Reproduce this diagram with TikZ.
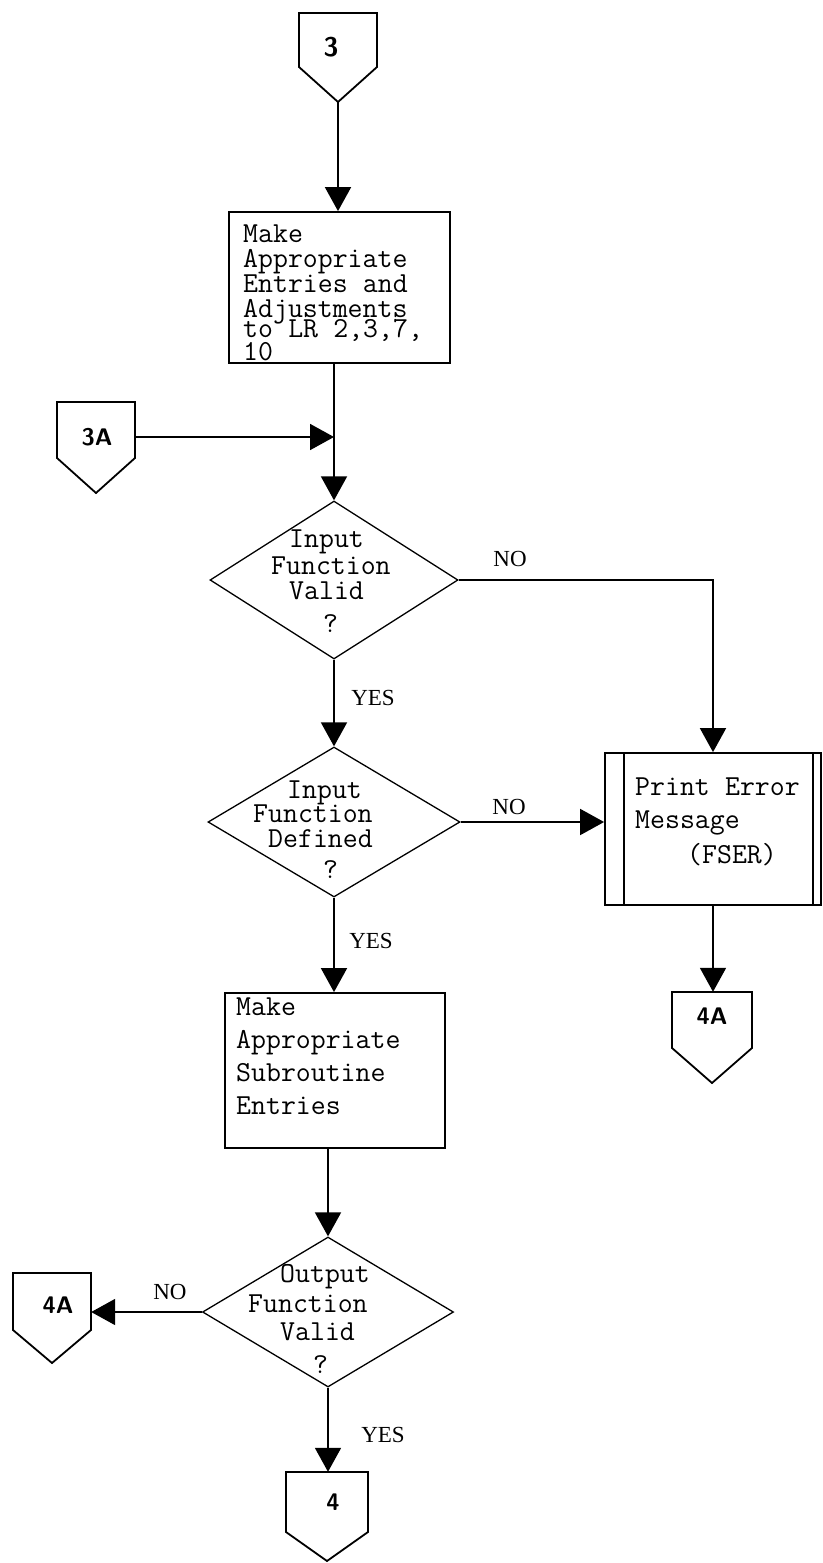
\documentclass[tikz,border=0pt]{standalone}
\usepackage{fontspec}
\newfontfamily\labfont{Liberation Serif}
\usetikzlibrary{arrows.meta,shapes.geometric}
\tikzset{
  ln/.style={line width=1.8pt},
  arr/.style={ln, -{Triangle[width=26pt,length=24pt]}},
  boxst/.style={draw, ln, rectangle, inner sep=0pt},
  dia/.style={draw, line width=1.3pt, diamond, inner sep=0pt, aspect=1},
  txt/.style={font=\fontsize{29}{25}\ttfamily, inner sep=0pt, anchor=base west, text width=220pt, align=left, execute at begin node={\spaceskip=15.2pt\relax}},
  lab/.style={font=\fontsize{23}{23}\labfont, inner sep=0pt},
  conlab/.style={font=\fontsize{24}{24}\sffamily\bfseries, inner sep=0pt},
  hook/.style={inner sep=0pt}
}
\newcommand{\offpage}[6]{%
  \draw[ln, line join=miter] ({#2-#4},#3) -- ({#2+#4},#3) -- ({#2+#4},#5) -- (#2,#6) -- ({#2-#4},#5) -- cycle;
  \node[hook, minimum width={2*#4}, minimum height={#5-#3}] (#1) at (#2,{(#3+#5)/2}) {};
  \coordinate (#1tip) at (#2,#6);
}
\begin{document}
\begin{tikzpicture}[x=1pt,y=-1pt]
\useasboundingbox (0,0) rectangle (822,1563);

% off-page connectors
\offpage{c3}{338}{13}{39}{67}{102}
\offpage{cA}{96}{402}{39}{458}{493}
\offpage{cR}{712}{992}{40}{1048}{1083}
\offpage{cL}{52}{1273}{39}{1330}{1363}
\offpage{c4}{327}{1472}{41}{1532}{1561}
\node[conlab, font=\fontsize{27}{27}\sffamily\bfseries] (c3t) at (331,47) {3};
\node[conlab] (cAt) at (97,437) {3A};
\node[conlab] (cRt) at (712,1016) {4A};
\node[conlab] (cLt) at (58,1305) {4A};
\node[conlab] (c4t) at (333,1502) {4};

% process boxes
\node[boxst, minimum width=221pt, minimum height=151pt] (b1) at (339.5,287.5) {};
\node[boxst, minimum width=220pt, minimum height=155pt] (b2) at (335,1070.5) {};
\node[boxst, minimum width=216pt, minimum height=152pt] (pe) at (713,829) {};
\draw[ln] ([xshift=20pt]pe.north west) -- ([xshift=20pt]pe.south west);
\draw[ln] ([xshift=-9pt]pe.north east) -- ([xshift=-9pt]pe.south east);

% decisions
\node[dia, minimum width=248pt, minimum height=158pt] (d1) at (334,580) {};
\node[dia, minimum width=252pt, minimum height=150pt] (d2) at (334,822) {};
\node[dia, minimum width=251pt, minimum height=150pt] (d3) at (328,1312) {};

% texts
\node[txt] (t1) at (243,242) {Make\\Appropriate\\Entries and\\Adjustments\\[-5pt]to LR 2,3,7,\\[-2pt]10};
\node[txt, font=\fontsize{29}{33}\ttfamily] (t2) at (236,1015) {Make\\Appropriate\\Subroutine\\Entries};
\node[txt, font=\fontsize{29}{33}\ttfamily] (t3) at (635,795) {Print Error\\Message\\[2pt]\hspace*{52pt}(FSER)};
\node[txt, font=\fontsize{29}{26}\ttfamily] (t4) at (271,547) {\hspace*{18pt}Input\\[1pt]Function\\[-1pt]\hspace*{18pt}Valid\\[7pt]\hspace*{52pt}?};
\node[txt, font=\fontsize{29}{25}\ttfamily] (t5) at (253,798) {\hspace*{34pt}Input\\[-1pt]Function\\\hspace*{15pt}Defined\\[6pt]\hspace*{70pt}?};
\node[txt, font=\fontsize{29}{29}\ttfamily] (t6) at (248,1282) {\hspace*{32pt}Output\\[1pt]Function\\[-1pt]\hspace*{32pt}Valid\\[4pt]\hspace*{65pt}?};

% connectors
\coordinate (j1) at (334,437);
\draw[arr] (c3tip) -- (c3tip |- b1.north);
\draw[ln] (d1.north |- b1.south) -- (j1);
\draw[arr] (j1) -- (d1.north);
\draw[arr] (cA.east |- j1) -- (j1);
\draw[arr] (d1.east) -| (pe.north);
\draw[arr] (d1.south) -- (d2.north);
\draw[arr] (d2.east) -- (d2.east -| pe.west);
\draw[arr] (d2.south) -- (d2.south |- b2.north);
\draw[arr] (pe.south) -- (pe.south |- cR.north);
\draw[arr] (d3.north |- b2.south) -- (d3.north);
\draw[arr] (d3.west) -- (d3.west -| cL.east);
\draw[arr] (d3.south) -- (d3.south |- c4.north);

% labels
\node[lab] (n1) at (510,559) {NO};
\node[lab] (y1) at (373,698) {YES};
\node[lab] (n2) at (509,807) {NO};
\node[lab] (y2) at (371,941) {YES};
\node[lab] (n3) at (170,1292) {NO};
\node[lab] (y3) at (383,1435) {YES};
\end{tikzpicture}
\end{document}
